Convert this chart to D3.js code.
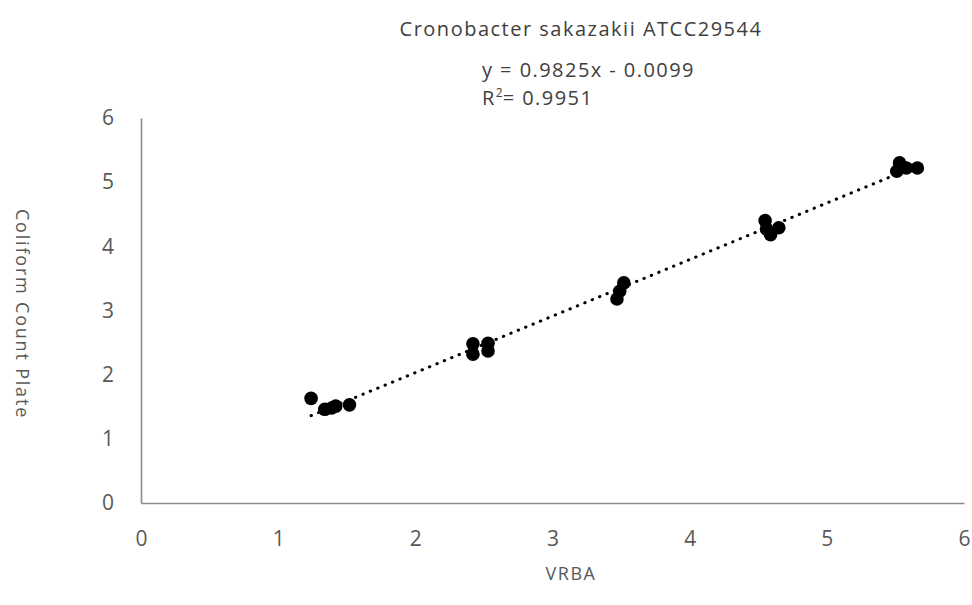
<!DOCTYPE html>
<html>
<head>
<meta charset="utf-8">
<script src="https://cdn.jsdelivr.net/npm/d3@7"></script>
<style>
  body { margin: 0; background: #fff; }
  svg { display: block; }
</style>
</head>
<body>
<svg id="chart" width="972" height="605"></svg>
<script>
// Chart text
const title = "Cronobacter sakazakii ATCC29544";
const xLabel = "VRBA";
const yLabel = "Coliform Count Plate";
const equationText = "y = 0.9825x - 0.0099";
const r2Text = "0.9951";

// Axis ticks
const xTicks = [0, 1, 2, 3, 4, 5, 6];
const yTicks = [0, 1, 2, 3, 4, 5, 6];

// Paired counts (log CFU) for each sample: VRBA vs coliform count plate
const vrba  = [1.24, 1.34, 1.39, 1.42, 1.52,
               2.42, 2.42, 2.53, 2.53,
               3.52, 3.49, 3.47,
               4.55, 4.56, 4.59, 4.65,
               5.53, 5.51, 5.58, 5.66];
const plate = [1.63, 1.46, 1.48, 1.51, 1.53,
               2.48, 2.32, 2.49, 2.37,
               3.43, 3.30, 3.18,
               4.40, 4.27, 4.18, 4.29,
               5.30, 5.17, 5.22, 5.22];

const points = vrba.map((v, i) => ({ x: v, y: plate[i] }));

const svg = d3.select("#chart");
const font = "'Open Sans', 'Noto Sans', sans-serif";

const x = d3.scaleLinear().domain([0, 6]).range([141, 964]);
const y = d3.scaleLinear().domain([0, 6]).range([503, 118]);

// Axes: plain grey lines, no tick marks
const xAxis = svg.append("g")
  .attr("transform", `translate(0,${y(0)})`)
  .call(d3.axisBottom(x).tickValues(xTicks).tickSize(0).tickSizeOuter(0).tickPadding(28).tickFormat(d3.format("d")));
const yAxis = svg.append("g")
  .attr("transform", `translate(${x(0)},0)`)
  .call(d3.axisLeft(y).tickValues(yTicks).tickSize(0).tickSizeOuter(0).tickPadding(27).tickFormat(d3.format("d")));

[xAxis, yAxis].forEach(g => {
  g.select(".domain").attr("stroke", "#8c8c8c").attr("stroke-width", 1.6);
  g.selectAll("text").attr("fill", "#595959").style("font-family", font).style("font-size", "21px");
});

// Linear least-squares trendline over the data range
const mx = d3.mean(points, d => d.x), my = d3.mean(points, d => d.y);
const slope = d3.sum(points, d => (d.x - mx) * (d.y - my)) / d3.sum(points, d => (d.x - mx) ** 2);
const intercept = my - slope * mx;
const [xMin, xMax] = d3.extent(points, d => d.x);

svg.append("line")
  .attr("x1", x(xMin)).attr("y1", y(slope * xMin + intercept))
  .attr("x2", x(xMax)).attr("y2", y(slope * xMax + intercept))
  .attr("stroke", "#000")
  .attr("stroke-width", 3)
  .attr("stroke-linecap", "round")
  .attr("stroke-dasharray", "0.4 7.6");

// Markers
svg.append("g").selectAll("circle")
  .data(points)
  .join("circle")
  .attr("cx", d => x(d.x))
  .attr("cy", d => y(d.y))
  .attr("r", 6.8)
  .attr("fill", "#000");

// Title and trendline equation
svg.append("text")
  .attr("x", 581).attr("y", 36)
  .attr("text-anchor", "middle")
  .attr("fill", "#404040")
  .style("font-family", font).style("font-size", "20px").style("letter-spacing", "1.5px")
  .text(title);

svg.append("text")
  .attr("x", 482).attr("y", 77)
  .attr("fill", "#404040")
  .style("font-family", font).style("font-size", "20px").style("letter-spacing", "1.45px")
  .text(equationText);

const r2 = svg.append("text")
  .attr("x", 482).attr("y", 105)
  .attr("fill", "#404040")
  .style("font-family", font).style("font-size", "20px").style("letter-spacing", "1.45px");
r2.append("tspan").text("R");
r2.append("tspan").attr("dy", -8).style("font-size", "12px").style("letter-spacing", "0px").text("2");
r2.append("tspan").attr("dy", 8).text("= " + r2Text);

// Axis titles
svg.append("text")
  .attr("x", 571).attr("y", 580)
  .attr("text-anchor", "middle")
  .attr("fill", "#595959")
  .style("font-family", font).style("font-size", "18px").style("letter-spacing", "1.5px")
  .text(xLabel);

svg.append("text")
  .attr("transform", "translate(16,314) rotate(90)")
  .attr("text-anchor", "middle")
  .attr("fill", "#595959")
  .style("font-family", font).style("font-size", "18px").style("letter-spacing", "1.8px")
  .text(yLabel);
</script>
</body>
</html>
